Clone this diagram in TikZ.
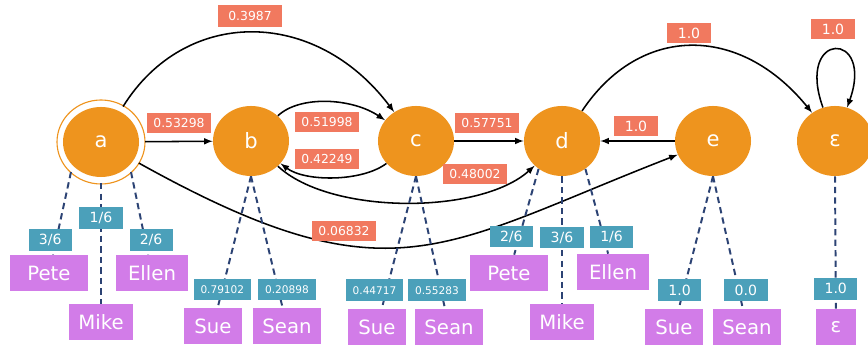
\documentclass[tikz,border=0pt]{standalone}
\usepackage{fontspec}
\setmainfont{DejaVu Sans}
\usetikzlibrary{shapes.geometric}

\definecolor{stateorange}{RGB}{238,148,30}
\definecolor{labsalmon}{RGB}{241,121,95}
\definecolor{probteal}{RGB}{75,160,186}
\definecolor{wordpurple}{RGB}{210,124,232}
\definecolor{emitblue}{RGB}{44,67,116}

\tikzset{
  hstate/.style={ellipse, fill=stateorange, text=white, minimum width=1.9cm, minimum height=1.75cm, inner sep=0pt, font=\fontsize{15}{18}\selectfont},
  wlab/.style={fill=labsalmon, text=white, minimum height=0.52cm, minimum width=1.62cm, inner sep=1pt, font=\fontsize{8.8}{10}\selectfont},
  wone/.style={wlab, minimum width=1.08cm, font=\fontsize{10}{12}\selectfont},
  prob/.style={fill=probteal, text=white, minimum height=0.54cm, minimum width=1.08cm, inner sep=1pt, font=\fontsize{10}{12}\selectfont},
  dprob/.style={prob, minimum width=1.43cm, font=\fontsize{7.5}{9}\selectfont},
  word/.style={fill=wordpurple, text=white, minimum height=0.9cm, inner sep=1pt, font=\fontsize{14}{16}\selectfont},
  trans/.style={draw=black, line width=1.1pt, arrows=-latex},
  emit/.style={draw=emitblue, line width=1.4pt, dash pattern=on 4.5pt off 3pt}
}

\begin{document}
\begin{tikzpicture}[x=0.025cm, y=-0.025cm]
\useasboundingbox (0,0) rectangle (868,346);

% hidden states
\node[hstate, outer sep=0.15cm] (a) at (101,142) {a};
\draw[stateorange, line width=0.8pt] (a.center) ellipse [x radius=44, y radius=42];
\node[hstate] (b) at (251,141) {b};
\node[hstate] (c) at (416,141) {c};
\node[hstate] (d) at (562,141) {d};
\node[hstate] (e) at (713,141) {e};
\node[hstate] (eps) at (835,141) {ε};

% transitions
\draw[trans] (a) -- (b);
\draw[trans] (a) .. controls (185,7) and (315,7) .. (c);
\draw[trans] (b) .. controls (300,95) and (352,98) .. (c);
\draw[trans] (c) .. controls (362,182) and (305,182) .. (b);
\draw[trans] (b) .. controls (330,215) and (480,215) .. (d);
\draw[trans] (a) .. controls (392,304) and (440,247) .. (e);
\draw[trans] (c) -- (d);
\draw[trans] (e) -- (d);
\draw[trans] (d) .. controls (640,24) and (740,24) .. (eps);
\draw[trans] (eps) .. controls (795,30) and (875,30) .. (eps);

% transition weights
\node[wlab, minimum height=0.55cm] (lac) at (250,16) {0.3987};
\node[wlab] (lab) at (179,123) {0.53298};
\node[wlab] (lbc) at (327,122) {0.51998};
\node[wlab] (lcb) at (327,159) {0.42249};
\node[wlab] (lcd) at (487,123) {0.57751};
\node[wlab] (lbd) at (475,174) {0.48002};
\node[wlab] (lae) at (344,231) {0.06832};
\node[wone] (lde) at (689,33) {1.0};
\node[wone] (led) at (636,126) {1.0};
\node[wone] (lee) at (833,29) {1.0};

% observations
\node[word, minimum width=1.95cm] (pete1) at (49,273) {Pete};
\node[word, minimum width=1.58cm] (mike1) at (101,322) {Mike};
\node[word, minimum width=1.78cm] (ellen1) at (152,273) {Ellen};
\node[word, minimum width=1.45cm] (sue2) at (213,326) {Sue};
\node[word, minimum width=1.7cm] (sean2) at (287,326) {Sean};
\node[word, minimum width=1.45cm] (sue3) at (377,327) {Sue};
\node[word, minimum width=1.7cm] (sean3) at (449,327) {Sean};
\node[word, minimum width=1.95cm] (pete4) at (509,273) {Pete};
\node[word, minimum width=1.62cm] (mike4) at (562,322) {Mike};
\node[word, minimum width=1.8cm] (ellen4) at (613,272) {Ellen};
\node[word, minimum width=1.45cm] (sue5) at (674,327) {Sue};
\node[word, minimum width=1.68cm] (sean5) at (747,327) {Sean};
\node[word, minimum width=1.0cm] (epsw) at (836,327) {ε};

% emissions
\draw[emit] (a.225) -- (pete1) node[prob, pos=0.82, xshift=-0.15cm] (pa1) {3/6};
\draw[emit] (a.south) -- (mike1) node[prob, pos=0.29] (pa2) {1/6};
\draw[emit] (a.315) -- (ellen1) node[prob, pos=0.82, xshift=0.15cm] (pa3) {2/6};
\draw[emit] (b.south) -- (sue2) node[dprob, pos=0.86] (pb1) {0.79102};
\draw[emit] (b.south) -- (sean2) node[dprob, pos=0.86, xshift=0.22cm] (pb2) {0.20898};
\draw[emit] (c.south) -- (sue3) node[dprob, pos=0.86, xshift=-0.3cm] (pc1) {0.44717};
\draw[emit] (c.south) -- (sean3) node[dprob, pos=0.86, xshift=-0.1cm] (pc2) {0.55283};
\draw[emit] (d.230) -- (pete4) node[prob, pos=0.79, xshift=-0.2cm] (pd1) {2/6};
\draw[emit] (d.south) -- (mike4) node[prob, pos=0.48] (pd2) {3/6};
\draw[emit] (d.310) -- (ellen4) node[prob, pos=0.8, xshift=0.2cm] (pd3) {1/6};
\draw[emit] (e.south) -- (sue5) node[prob, pos=0.86, xshift=-0.1cm] (pe1) {1.0};
\draw[emit] (e.south) -- (sean5) node[prob, pos=0.86, xshift=0.18cm] (pe2) {0.0};
\draw[emit] (eps.south) -- (epsw) node[prob, pos=0.85] (pf1) {1.0};
\end{tikzpicture}
\end{document}
